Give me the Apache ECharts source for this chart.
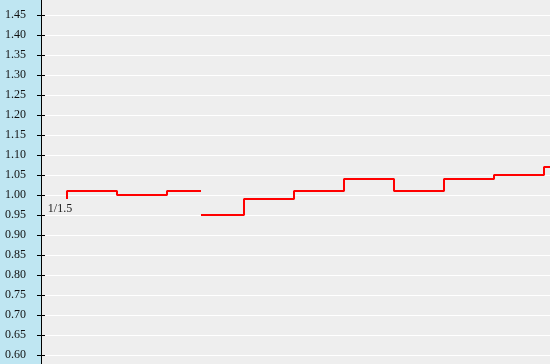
<!DOCTYPE html>
<html>
<head>
<meta charset="utf-8">
<script src="https://cdn.jsdelivr.net/npm/echarts@6/dist/echarts.min.js"></script>
<style>
  html, body { margin: 0; padding: 0; }
  #chart { width: 550px; height: 364px; background: #bfe6f2; }
</style>
</head>
<body>
<div id="chart"></div>
<script>
// Periods (x positions in week units) and values
const xBefore = [0, 1, 2, 2.68];
const valuesBefore = [0.99, 1.01, 1.00, 1.01];
const xAfter = [2.68, 3.54, 4.54, 5.54, 6.54, 7.54, 8.54, 9.54, 10.54];
const valuesAfter = [0.95, 0.95, 0.99, 1.01, 1.04, 1.01, 1.04, 1.05, 1.07];
const splitLabel = '1/1.5';
const yMin = 0.55, yMax = 1.50, yStep = 0.05;
const xMin = -0.52, xMax = 9.66;

const dataBefore = xBefore.map((x, i) => {
  const item = { value: [x, valuesBefore[i]] };
  if (i === 0) {
    item.label = {
      show: true, formatter: splitLabel, position: 'bottom', distance: 4, offset: [-7, 0],
      fontFamily: 'Liberation Serif, Times New Roman, serif', fontSize: 12, color: '#1a1a1a'
    };
  }
  return item;
});
const dataAfter = xAfter.map((x, i) => [x, valuesAfter[i]]);

const chart = echarts.init(document.getElementById('chart'));
const lineStyle = { color: '#ff0000', width: 2 };
chart.setOption({
  animation: false,
  grid: {
    left: 41, right: 0, top: -5, bottom: -11,
    show: true, backgroundColor: '#eeeeee', borderWidth: 0,
    containLabel: false, outerBoundsMode: 'none'
  },
  xAxis: { type: 'value', min: xMin, max: xMax, show: false },
  yAxis: [
    {
      type: 'value', min: yMin, max: yMax, interval: yStep, position: 'left',
      axisLine: { show: true, onZero: false, lineStyle: { color: '#000', width: 1 } },
      axisTick: { show: true, inside: false, length: 4, lineStyle: { color: '#000' } },
      axisLabel: {
        show: true, margin: 15, showMinLabel: false, showMaxLabel: false,
        padding: [0, 0, 6, 0],
        formatter: v => v.toFixed(2),
        fontFamily: 'Liberation Serif, Times New Roman, serif', fontSize: 12, color: '#111'
      },
      splitLine: { show: true, lineStyle: { color: '#ffffff', width: 1 } }
    },
    {
      type: 'value', min: yMin, max: yMax, interval: yStep, position: 'left',
      axisLine: { show: false, onZero: false },
      axisTick: { show: true, inside: true, length: 4, lineStyle: { color: '#000' } },
      axisLabel: { show: false },
      splitLine: { show: false }
    }
  ],
  series: [
    {
      type: 'line', step: 'start', data: dataBefore, yAxisIndex: 0,
      showSymbol: true, symbolSize: 0, lineStyle: lineStyle, itemStyle: { color: '#ff0000' },
      silent: true
    },
    {
      type: 'line', step: 'start', data: dataAfter, yAxisIndex: 0,
      showSymbol: false, lineStyle: lineStyle, itemStyle: { color: '#ff0000' },
      silent: true
    }
  ]
});
</script>
</body>
</html>
